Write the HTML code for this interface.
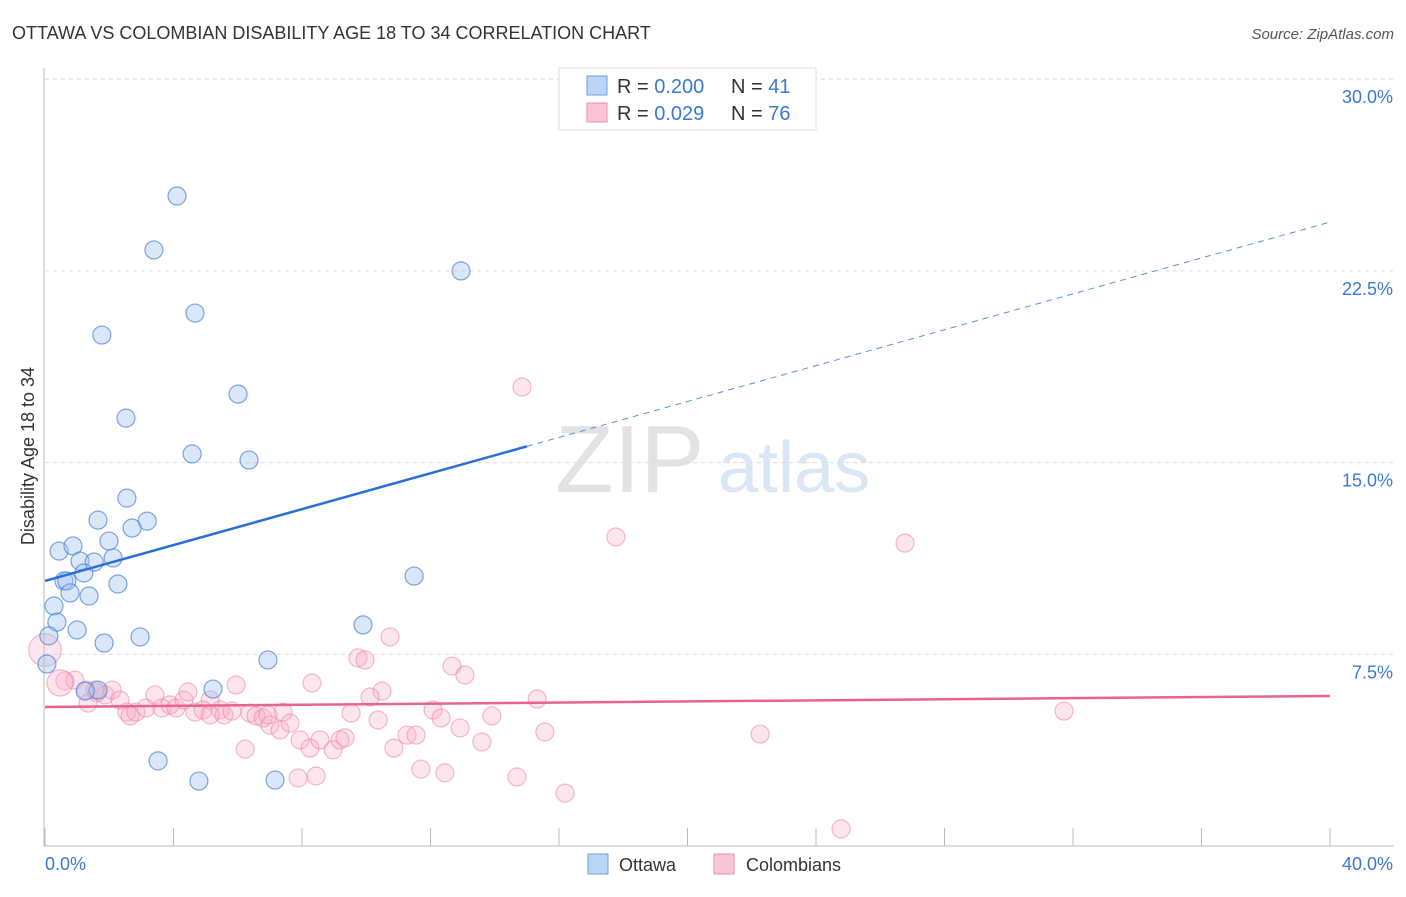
<!DOCTYPE html>
<html><head><meta charset="utf-8"><style>
body{margin:0;background:#fff;font-family:"Liberation Sans",sans-serif;}
svg text{font-family:"Liberation Sans",sans-serif;}
</style></head><body>
<svg id="chart" width="1406" height="892" xmlns="http://www.w3.org/2000/svg">
<text x="12" y="39" font-size="18" fill="#333">OTTAWA VS COLOMBIAN DISABILITY AGE 18 TO 34 CORRELATION CHART</text>
<text x="1394" y="39" font-size="15" fill="#555" text-anchor="end" font-style="italic">Source: ZipAtlas.com</text>
<g>
<text x="555" y="492" font-size="96" fill="#e2e2e2" font-family="Liberation Serif, serif">ZIP</text>
<text x="718" y="492" font-size="72" fill="#d8e6f6">atlas</text>
</g>
<g id="grid"></g>
<g id="axes"></g>
<g id="marks"></g>
<text transform="translate(34,456) rotate(-90)" font-size="18" fill="#333" text-anchor="middle">Disability Age 18 to 34</text>
<g>
<rect x="559" y="68" width="257" height="62" fill="#fff" stroke="#ddd"/>
<rect x="587" y="76" width="20" height="19" fill="#bcd5f5" stroke="#6d9fe0"/>
<rect x="587" y="103" width="20" height="19" fill="#fac6d6" stroke="#ec8fab"/>
<text x="617" y="93" font-size="20" fill="#333">R = <tspan fill="#3a78d4">0.200</tspan></text>
<text x="731" y="93" font-size="20" fill="#333">N = <tspan fill="#3a78d4">41</tspan></text>
<text x="617" y="120" font-size="20" fill="#333">R = <tspan fill="#3a78d4"> 0.029</tspan></text>
<text x="731" y="120" font-size="20" fill="#333">N = <tspan fill="#3a78d4">76</tspan></text>
</g>
<g>
<rect x="588" y="854" width="20" height="20" fill="#bcd5f5" stroke="#6d9fe0"/>
<text x="619" y="871" font-size="18" fill="#333">Ottawa</text>
<rect x="714" y="854" width="20" height="20" fill="#fac6d6" stroke="#ec8fab"/>
<text x="746" y="871" font-size="18" fill="#333">Colombians</text>
</g>
</svg>
<script>
const yTicks=[7.5,15,22.5,30];
const yTickLabels=["7.5%","15.0%","22.5%","30.0%"];
const xTickLabels=["0.0%","40.0%"];
const ottawaX=[4.11,3.39,12.95,4.67,1.77,6.01,2.52,4.58,6.35,2.55,1.65,3.18,2.71,0.44,0.87,1.99,1.09,1.53,2.12,1.21,0.59,0.68,2.27,0.78,1.37,0.28,11.49,0.37,1.00,2.96,9.90,1.84,0.12,6.94,0.06,5.23,1.65,1.25,3.52,4.79,7.16];
const ottawaY=[25.43,23.32,22.50,20.85,19.99,17.68,16.74,15.34,15.10,13.61,12.75,12.71,12.44,11.54,11.74,11.93,11.15,11.11,11.27,10.68,10.37,10.37,10.25,9.90,9.78,9.39,10.56,8.76,8.45,8.18,8.65,7.94,8.22,7.28,7.12,6.14,6.10,6.06,3.33,2.54,2.58];
const colX=[14.85,17.77,26.77,10.74,9.74,9.96,12.67,13.07,5.95,8.31,10.49,10.12,15.32,0.62,0.93,1.28,1.62,1.87,2.09,2.33,1.34,2.55,2.65,2.83,3.14,3.42,3.64,3.89,4.08,4.33,4.45,4.67,4.92,5.14,5.45,5.57,5.82,6.38,6.57,6.79,7.00,7.32,7.41,7.63,7.94,8.25,8.56,8.97,9.18,9.34,9.53,10.37,10.86,11.27,11.55,12.08,12.33,12.92,13.60,13.91,15.56,22.26,31.72,6.23,11.70,12.45,7.88,8.44,14.69,16.19,24.78,1.56,5.14,6.94,0.0,0.47];
const colY=[17.96,12.09,11.85,8.18,7.36,7.28,7.04,6.69,6.30,6.38,6.06,5.83,5.75,6.46,6.49,6.10,5.99,5.91,6.10,5.71,5.59,5.24,5.09,5.24,5.40,5.91,5.40,5.52,5.40,5.71,6.03,5.24,5.32,5.71,5.32,5.13,5.28,5.20,5.09,5.01,4.73,4.54,5.24,4.81,4.15,3.83,4.15,3.76,4.15,4.23,5.20,4.93,3.83,4.34,4.34,5.32,5.01,4.62,4.07,5.09,4.46,4.38,5.28,3.79,3.01,2.86,2.66,2.74,2.70,2.07,0.67,6.10,5.13,5.13,7.67,6.38];
const colSize=colX.map((v,i)=>i===74?1.8:(i===75?1.45:1));
const ottawaTrend=[10.37,24.41]; // y at x=0, x=40
const ottawaSolidEnd=15.0;
const colTrend=[5.44,5.87];

const NS="http://www.w3.org/2000/svg";
const X0=45,X1=1330,Yb=846,pxPer=191.7/7.5;
const sx=v=>X0+(v/40)*(X1-X0);
const sy=v=>Yb-v*pxPer;
function mk(tag,attrs,parent){const e=document.createElementNS(NS,tag);for(const k in attrs)e.setAttribute(k,attrs[k]);parent.appendChild(e);return e;}
const grid=document.getElementById('grid'),axes=document.getElementById('axes'),marks=document.getElementById('marks');
mk('line',{x1:X0,x2:1394,y1:sy(30),y2:sy(30),stroke:'#ddd','stroke-dasharray':'4,4'},grid);
yTicks.forEach((t,i)=>{
 const l=mk('line',{x1:X0,x2:1394,y1:sy(t),y2:sy(t),stroke:'#ddd','stroke-dasharray':'4,4'},grid);
 
 
 const tx=mk('text',{x:1393,y:sy(t)+24,'font-size':18,fill:'#3a78d4','text-anchor':'end'},axes);
 tx.textContent=yTickLabels[i];
 
 
});
mk('line',{x1:44,x2:44,y1:68,y2:846,stroke:'#bbb'},axes);
mk('line',{x1:44,x2:1394,y1:846,y2:846,stroke:'#bbb'},axes);
for(let i=0;i<=10;i++){const x=sx(i*4);const t=mk('line',{x1:x,x2:x,y1:828,y2:846,stroke:'#bbb'},axes);
 
 }
const xl0=mk('text',{x:45,y:870,'font-size':18,fill:'#3a78d4'},axes);xl0.textContent=xTickLabels[0];


const xl1=mk('text',{x:1393,y:870,'font-size':18,fill:'#3a78d4','text-anchor':'end'},axes);xl1.textContent=xTickLabels[1];


colX.forEach((v,i)=>{const c=mk('circle',{cx:sx(v),cy:sy(colY[i]),r:9*colSize[i],fill:'rgba(248,170,195,0.3)',stroke:'rgba(236,130,165,0.55)','stroke-width':1.2},marks);
 
 });
ottawaX.forEach((v,i)=>{const c=mk('circle',{cx:sx(v),cy:sy(ottawaY[i]),r:9,fill:'rgba(160,195,240,0.4)',stroke:'rgba(70,130,215,0.7)','stroke-width':1.2},marks);
 
 });
const ty=x=>ottawaTrend[0]+(ottawaTrend[1]-ottawaTrend[0])*x/40;
const t1=mk('line',{x1:sx(0),y1:sy(ty(0)),x2:sx(ottawaSolidEnd),y2:sy(ty(ottawaSolidEnd)),stroke:'#2a6fd6','stroke-width':2.5},marks);


const t2=mk('line',{x1:sx(ottawaSolidEnd),y1:sy(ty(ottawaSolidEnd)),x2:sx(40),y2:sy(ty(40)),stroke:'#5a8fd8','stroke-width':1,'stroke-dasharray':'6,5'},marks);


const t3=mk('line',{x1:sx(0),y1:sy(colTrend[0]),x2:sx(40),y2:sy(colTrend[1]),stroke:'#e8648f','stroke-width':2.5},marks);


</script>
</body></html>
